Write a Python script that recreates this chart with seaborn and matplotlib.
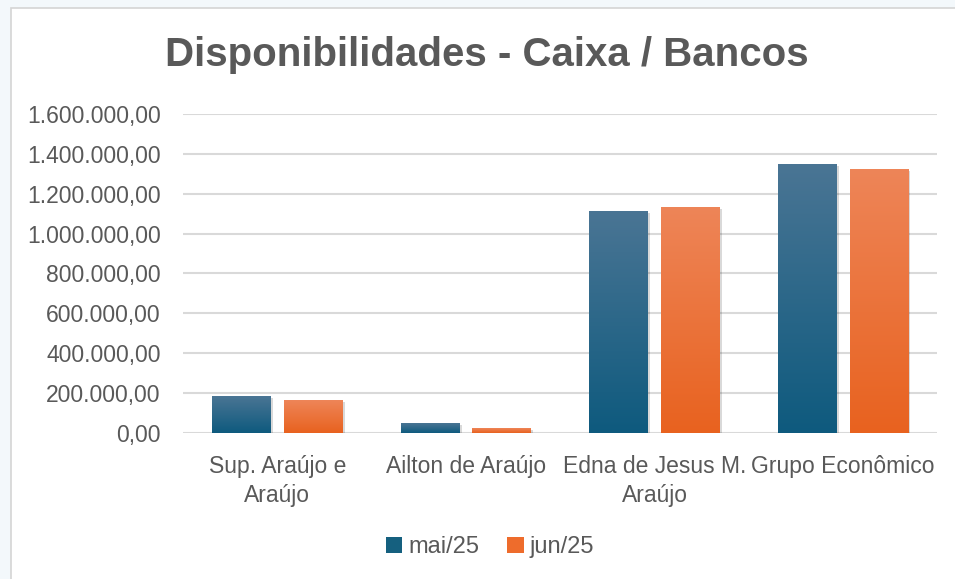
import numpy as np
import pandas as pd
import matplotlib
matplotlib.use("Agg")
import matplotlib.pyplot as plt
import seaborn as sns
from matplotlib.colors import LinearSegmentedColormap
from matplotlib.patches import Rectangle, Patch
import matplotlib.patheffects as pe

categories = ["Sup. Araújo e\nAraújo", "Ailton de Araújo", "Edna de Jesus M.\nAraújo", "Grupo Econômico"]
series_names = ["mai/25", "jun/25"]
mai_values = [185000, 50000, 1113000, 1348000]
jun_values = [165000, 25000, 1133000, 1323000]
yticks = [0, 200000, 400000, 600000, 800000, 1000000, 1200000, 1400000, 1600000]
title = "Disponibilidades - Caixa / Bancos"

df = pd.DataFrame({
    "cat": categories * 2,
    "serie": [series_names[0]] * 4 + [series_names[1]] * 4,
    "valor": mai_values + jun_values,
})

sns.set_theme(style="white")
plt.rcParams["font.family"] = ["Liberation Sans", "DejaVu Sans"]

fig = plt.figure(figsize=(9.55, 5.79), dpi=100)
fig.patch.set_facecolor("#f3f8fb")
card = Rectangle((0.011, -0.01), 1.0, 0.997, transform=fig.transFigure,
                 facecolor="white", edgecolor="#d4d4d4", linewidth=1.2, zorder=-10)
fig.patches.append(card)

ax = fig.add_axes([0.1916, 0.2522, 0.790, 0.551])
ax.set_zorder(5)
ax.set_facecolor("none")
colors = {"mai/25": "#15607f", "jun/25": "#ee6c2c"}
sns.barplot(data=df, x="cat", y="valor", hue="serie", palette=colors, ax=ax,
            width=0.76, gap=0.18, saturation=1, legend=False, linewidth=0)

grads = [("#4a7594", "#0e5a7e"), ("#ee8558", "#e8621f")]
ncat = len(categories)
for i, p in enumerate(list(ax.patches)):
    top_c, bot_c = grads[i // ncat]
    cmap = LinearSegmentedColormap.from_list("g", [bot_c, top_c])
    x0, w = p.get_x(), p.get_width()
    h = p.get_height()
    p.set_linewidth(0)
    p.set_path_effects([pe.SimplePatchShadow(offset=(1.5, -1.5), shadow_rgbFace="#000000", alpha=0.15), pe.Normal()])
    im = ax.imshow(np.linspace(0, 1, 256).reshape(-1, 1), cmap=cmap, aspect="auto",
                   extent=(x0, x0 + w, 0, h), origin="lower", zorder=3)
    im.set_clip_path(p)

ax.set_xlim(-0.5, ncat - 0.5)
ax.set_ylim(0, 1600000)
ax.set_aspect("auto")
ax.set_yticks(yticks)
ax.set_yticklabels([f"{v:,.2f}".replace(",", "X").replace(".", ",").replace("X", ".") for v in yticks])
ax.yaxis.grid(True, color="#d9d9d9", linewidth=1.5, zorder=0)
ax.set_axisbelow(True)
for s in ax.spines.values():
    s.set_visible(False)
ax.tick_params(axis="both", length=0, colors="#595959")
ax.tick_params(axis="y", pad=16, labelsize=16.5)
ax.tick_params(axis="x", pad=16, labelsize=16.5)
ax.set_xlabel("")
ax.set_ylabel("")
for lab in ax.get_xticklabels():
    lab.set_linespacing(1.35)

fig.text(0.51, 0.905, title, ha="center", va="center", fontsize=29, fontweight="bold", color="#595959")

handles = [Patch(facecolor=colors[s], edgecolor="none") for s in series_names]
fig.legend(handles, series_names, loc="center", bbox_to_anchor=(0.513, 0.055), ncol=2, frameon=False,
           fontsize=17, labelcolor="#595959", handlelength=0.7, handleheight=0.7, handletextpad=0.25,
           columnspacing=1.2)

fig.savefig("out.png", dpi=100, facecolor=fig.get_facecolor())
